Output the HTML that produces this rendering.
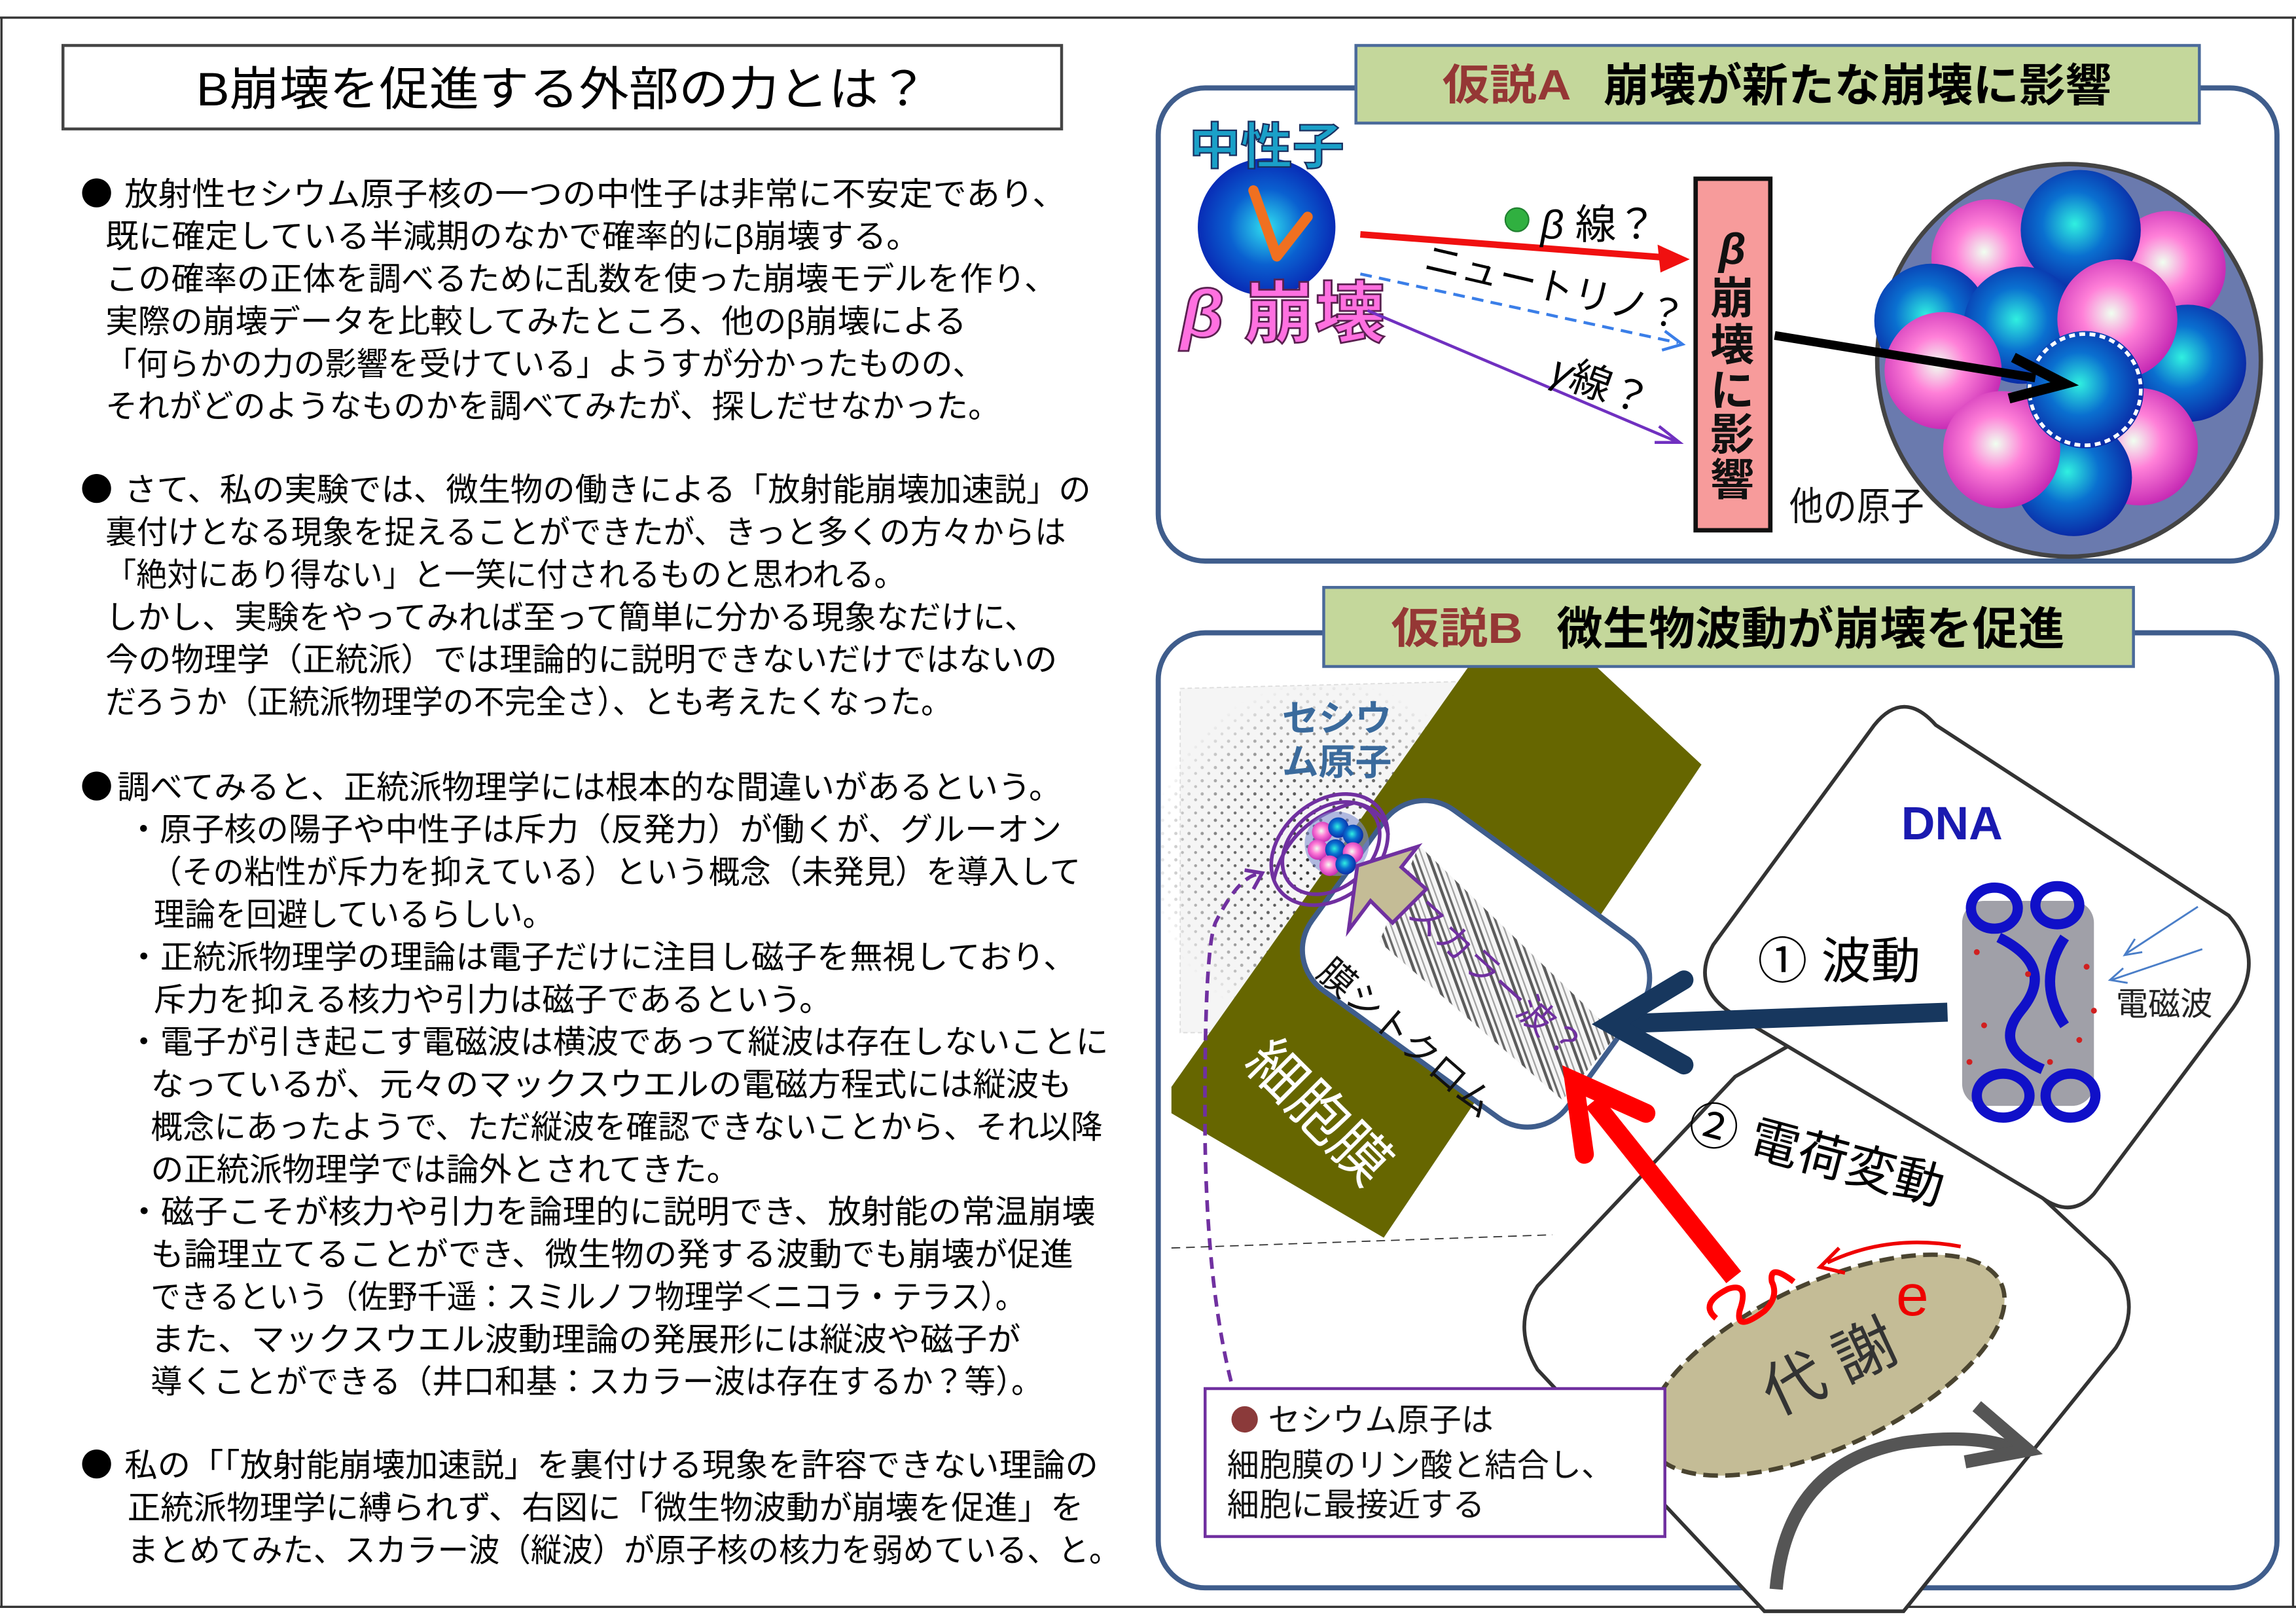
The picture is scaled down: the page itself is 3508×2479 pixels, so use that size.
<!DOCTYPE html>
<html><head><meta charset="utf-8"><style>
html,body{margin:0;padding:0;background:#fff;}
svg{display:block;}
text{font-family:"Liberation Sans","Noto Sans CJK JP",sans-serif;}
.b{font-family:"Noto Sans CJK JP",sans-serif;}
</style></head><body>
<svg width="3508" height="2479" viewBox="0 0 1568 1108" xmlns="http://www.w3.org/2000/svg">
<defs>
<radialGradient id="gb" cx="0.45" cy="0.45" r="0.6"><stop offset="0" stop-color="#30f0e0"/><stop offset="0.45" stop-color="#0a70d0"/><stop offset="1" stop-color="#0a20a0"/></radialGradient>
<radialGradient id="gp" cx="0.45" cy="0.45" r="0.6"><stop offset="0" stop-color="#f0fff0"/><stop offset="0.4" stop-color="#ff80d8"/><stop offset="1" stop-color="#c020b0"/></radialGradient>
<radialGradient id="gn" cx="0.5" cy="0.5" r="0.55"><stop offset="0" stop-color="#30e0f0"/><stop offset="0.5" stop-color="#0a60d0"/><stop offset="1" stop-color="#0820b0"/></radialGradient>
<pattern id="dots" width="9" height="9" patternUnits="userSpaceOnUse"><circle cx="2" cy="2" r="1.1" fill="#222"/><circle cx="6.5" cy="6" r="1" fill="#222"/></pattern>
<radialGradient id="dm"><stop offset="0" stop-color="#fff"/><stop offset="0.6" stop-color="#fff" stop-opacity="0.6"/><stop offset="1" stop-color="#fff" stop-opacity="0"/></radialGradient>
<mask id="dmask"><circle cx="905" cy="585" r="120" fill="url(#dm)"/></mask>
<pattern id="stripes" width="12" height="12" patternUnits="userSpaceOnUse" patternTransform="rotate(-20)"><rect width="12" height="12" fill="#f4f4f4"/><rect x="0" width="1.5" height="12" fill="#444"/><rect x="4" width="1" height="12" fill="#888"/><rect x="8" width="2" height="12" fill="#333"/></pattern>
</defs>

<!-- frame -->
<line x1="0" y1="12" x2="1568" y2="12" stroke="#333" stroke-width="1.5"/>
<line x1="0" y1="1097" x2="1568" y2="1097" stroke="#333" stroke-width="1.5"/>
<line x1="1" y1="12" x2="1" y2="1097" stroke="#333" stroke-width="1.5"/>
<line x1="1566" y1="12" x2="1566" y2="1097" stroke="#333" stroke-width="1.5"/>

<!-- title -->
<rect x="43" y="31" width="682" height="57" fill="#fff" stroke="#444" stroke-width="2"/>
<text x="384" y="72" font-size="32" text-anchor="middle" textLength="500" lengthAdjust="spacingAndGlyphs">B崩壊を促進する外部の力とは？</text>

<!-- left text -->
<g font-size="22" fill="#000">
<text class="b" x="55" y="140">●</text>
<text x="85" y="140" textLength="643" lengthAdjust="spacingAndGlyphs">放射性セシウム原子核の一つの中性子は非常に不安定であり、</text>
<text x="72" y="169" textLength="556" lengthAdjust="spacingAndGlyphs">既に確定している半減期のなかで確率的にβ崩壊する。</text>
<text x="72" y="198" textLength="650" lengthAdjust="spacingAndGlyphs">この確率の正体を調べるために乱数を使った崩壊モデルを作り、</text>
<text x="72" y="227" textLength="588" lengthAdjust="spacingAndGlyphs">実際の崩壊データを比較してみたところ、他のβ崩壊による</text>
<text x="72" y="256" textLength="600" lengthAdjust="spacingAndGlyphs">「何らかの力の影響を受けている」ようすが分かったものの、</text>
<text x="72" y="285" textLength="611" lengthAdjust="spacingAndGlyphs">それがどのようなものかを調べてみたが、探しだせなかった。</text>

<text class="b" x="55" y="342">●</text>
<text x="85" y="342" textLength="660" lengthAdjust="spacingAndGlyphs">さて、私の実験では、微生物の働きによる「放射能崩壊加速説」の</text>
<text x="72" y="371" textLength="656" lengthAdjust="spacingAndGlyphs">裏付けとなる現象を捉えることができたが、きっと多くの方々からは</text>
<text x="72" y="400" textLength="546" lengthAdjust="spacingAndGlyphs">「絶対にあり得ない」と一笑に付されるものと思われる。</text>
<text x="72" y="429" textLength="636" lengthAdjust="spacingAndGlyphs">しかし、実験をやってみれば至って簡単に分かる現象なだけに、</text>
<text x="72" y="458" textLength="650" lengthAdjust="spacingAndGlyphs">今の物理学（正統派）では理論的に説明できないだけではないの</text>
<text x="72" y="487" textLength="578" lengthAdjust="spacingAndGlyphs">だろうか（正統派物理学の不完全さ）、とも考えたくなった。</text>

<text class="b" x="55" y="545">●</text>
<text x="80" y="545" textLength="645" lengthAdjust="spacingAndGlyphs">調べてみると、正統派物理学には根本的な間違いがあるという。</text>
<text x="87" y="574" textLength="638" lengthAdjust="spacingAndGlyphs">・原子核の陽子や中性子は斥力（反発力）が働くが、グルーオン</text>
<text x="103" y="603" textLength="635" lengthAdjust="spacingAndGlyphs">（その粘性が斥力を抑えている）という概念（未発見）を導入して</text>
<text x="105" y="632" textLength="273" lengthAdjust="spacingAndGlyphs">理論を回避しているらしい。</text>
<text x="87" y="661" textLength="648" lengthAdjust="spacingAndGlyphs">・正統派物理学の理論は電子だけに注目し磁子を無視しており、</text>
<text x="105" y="690" textLength="463" lengthAdjust="spacingAndGlyphs">斥力を抑える核力や引力は磁子であるという。</text>
<text x="87" y="719" textLength="670" lengthAdjust="spacingAndGlyphs">・電子が引き起こす電磁波は横波であって縦波は存在しないことに</text>
<text x="103" y="748" textLength="629" lengthAdjust="spacingAndGlyphs">なっているが、元々のマックスウエルの電磁方程式には縦波も</text>
<text x="103" y="777" textLength="650" lengthAdjust="spacingAndGlyphs">概念にあったようで、ただ縦波を確認できないことから、それ以降</text>
<text x="103" y="806" textLength="402" lengthAdjust="spacingAndGlyphs">の正統派物理学では論外とされてきた。</text>
<text x="87" y="835" textLength="661" lengthAdjust="spacingAndGlyphs">・磁子こそが核力や引力を論理的に説明でき、放射能の常温崩壊</text>
<text x="103" y="864" textLength="630" lengthAdjust="spacingAndGlyphs">も論理立てることができ、微生物の発する波動でも崩壊が促進</text>
<text x="103" y="893" textLength="597" lengthAdjust="spacingAndGlyphs">できるという（佐野千遥：スミルノフ物理学＜ニコラ・テラス）。</text>
<text x="103" y="922" textLength="594" lengthAdjust="spacingAndGlyphs">また、マックスウエル波動理論の発展形には縦波や磁子が</text>
<text x="103" y="951" textLength="609" lengthAdjust="spacingAndGlyphs">導くことができる（井口和基：スカラー波は存在するか？等）。</text>

<text class="b" x="55" y="1008">●</text>
<text x="85" y="1008" textLength="665" lengthAdjust="spacingAndGlyphs">私の「「放射能崩壊加速説」を裏付ける現象を許容できない理論の</text>
<text x="87" y="1037" textLength="653" lengthAdjust="spacingAndGlyphs">正統派物理学に縛られず、右図に「微生物波動が崩壊を促進」を</text>
<text x="87" y="1066" textLength="678" lengthAdjust="spacingAndGlyphs">まとめてみた、スカラー波（縦波）が原子核の核力を弱めている、と。</text>
</g>

<!-- ============ Hypothesis A ============ -->
<rect x="791" y="60" width="764" height="323" rx="32" fill="#fff" stroke="#3f5d8c" stroke-width="3.5"/>
<rect x="926" y="31" width="576" height="53" fill="#c4d79b" stroke="#4a6a9a" stroke-width="2"/>
<text x="985" y="68" font-size="29" font-weight="bold" fill="#953735" textLength="88" lengthAdjust="spacingAndGlyphs">仮説A</text>
<text x="1095" y="69" font-size="31" font-weight="bold" fill="#000" textLength="347" lengthAdjust="spacingAndGlyphs">崩壊が新たな崩壊に影響</text>

<circle cx="865" cy="155" r="47" fill="url(#gn)"/>
<path d="M856,130 L872,175 L893,148" fill="none" stroke="#f07020" stroke-width="7" stroke-linecap="round" stroke-linejoin="round"/>
<text x="865" y="112" font-size="34" font-weight="bold" fill="#1aa0c8" stroke="#1a3060" stroke-width="1" text-anchor="middle" textLength="106" lengthAdjust="spacingAndGlyphs">中性子</text>
<text x="806" y="230" font-size="46" font-weight="bold" fill="#ff70e0" stroke="#5a2050" stroke-width="1.2" textLength="140" lengthAdjust="spacingAndGlyphs"><tspan font-style="italic">β</tspan> 崩壊</text>

<line x1="929" y1="160" x2="1140" y2="176" stroke="#f01010" stroke-width="4.5"/>
<path d="M1154,177 L1132,167 L1134,186 z" fill="#f01010"/>
<circle cx="1036" cy="150" r="8" fill="#30b040" stroke="#208030" stroke-width="1"/>
<text x="1052" y="163" font-size="28" fill="#000"><tspan font-style="italic">β</tspan> 線？</text>
<line x1="929" y1="187" x2="1146" y2="234" stroke="#3a7ee8" stroke-width="2" stroke-dasharray="8,5"/>
<path d="M1137,226 L1149,235 L1135,239" fill="none" stroke="#3a7ee8" stroke-width="2"/>
<text x="1060" y="205" font-size="26" fill="#000" text-anchor="middle" transform="rotate(13 1060 205)">ニュートリノ？</text>
<line x1="934" y1="212" x2="1144" y2="301" stroke="#7030c0" stroke-width="2"/>
<path d="M1133,291 L1147,302 L1130,302" fill="none" stroke="#7030c0" stroke-width="2"/>
<text x="1090" y="272" font-size="28" fill="#000" text-anchor="middle" transform="rotate(20 1090 272)"><tspan font-style="italic">γ</tspan>線？</text>

<rect x="1158" y="122" width="51" height="240" fill="#f79b9b" stroke="#111" stroke-width="3"/>
<g font-size="30" font-weight="bold" fill="#111" text-anchor="middle">
<text x="1183" y="180" font-style="italic">β</text>
<text x="1183" y="214">崩</text>
<text x="1183" y="246">壊</text>
<text x="1183" y="277">に</text>
<text x="1183" y="307">影</text>
<text x="1183" y="338">響</text>
</g>

<ellipse cx="1413" cy="246" rx="131" ry="134" fill="#6a7aae" stroke="#444" stroke-width="3"/>
<g>
<circle cx="1359" cy="176" r="40" fill="url(#gp)"/>
<circle cx="1481" cy="183" r="39" fill="url(#gp)"/>
<circle cx="1421" cy="157" r="41" fill="url(#gb)"/>
<circle cx="1319" cy="219" r="39" fill="url(#gb)"/>
<circle cx="1494" cy="248" r="40" fill="url(#gb)"/>
<circle cx="1381" cy="222" r="40" fill="url(#gb)"/>
<circle cx="1446" cy="218" r="41" fill="url(#gp)"/>
<circle cx="1327" cy="253" r="40" fill="url(#gp)"/>
<circle cx="1461" cy="305" r="40" fill="url(#gp)"/>
<circle cx="1416" cy="326" r="40" fill="url(#gb)"/>
<circle cx="1367" cy="307" r="40" fill="url(#gp)"/>
<circle cx="1424" cy="266" r="40" fill="url(#gb)"/>
<circle cx="1424" cy="266" r="38" fill="none" stroke="#fff" stroke-width="2.5" stroke-dasharray="4,3"/>
</g>
<line x1="1212" y1="229" x2="1390" y2="258" stroke="#000" stroke-width="6"/>
<path d="M1375,244 L1410,262 L1372,272" fill="none" stroke="#000" stroke-width="7" stroke-linejoin="miter"/>
<text x="1222" y="355" font-size="27" fill="#111" textLength="92" lengthAdjust="spacingAndGlyphs">他の原子</text>

<!-- ============ Hypothesis B ============ -->
<rect x="791" y="432" width="764" height="652" rx="32" fill="#fff" stroke="#3f5d8c" stroke-width="3.5"/>

<polygon points="806,470 1010,465 905,705 806,705" fill="#f5f5f5" stroke="#ddd" stroke-width="0.8" stroke-dasharray="3,2"/>
<rect x="790" y="460" width="240" height="250" fill="url(#dots)" mask="url(#dmask)"/>

<polygon points="1003,455 1090,455 1162,522 945,845 800,760 800,742" fill="#666600"/>

<!-- diamond 2 -->
<path d="M1225,712 Q1255,690 1285,715 L1440,860 Q1465,888 1445,920 L1300,1100 L1205,1100 L1050,935 Q1032,905 1050,878 L1185,735 Z" fill="#fff" stroke="#333" stroke-width="2.5"/>
<!-- diamond 1 -->
<path d="M1280,495 Q1300,470 1322,495 L1522,625 Q1548,655 1525,688 L1430,815 Q1415,832 1395,818 L1180,690 Q1155,672 1170,645 Z" fill="#fff" stroke="#333" stroke-width="2.5"/>

<!-- B header (drawn over panel border) -->
<rect x="904" y="401" width="553" height="54" fill="#c4d79b" stroke="#4a6a9a" stroke-width="2"/>
<text x="950" y="439" font-size="29" font-weight="bold" fill="#953735" textLength="90" lengthAdjust="spacingAndGlyphs">仮説B</text>
<text x="1063" y="440" font-size="31" font-weight="bold" fill="#000" textLength="347" lengthAdjust="spacingAndGlyphs">微生物波動が崩壊を促進</text>

<!-- cytochrome -->
<g transform="translate(1008,658) rotate(36)">
<rect x="-108" y="-76" width="216" height="152" rx="34" fill="#fff" stroke="#3f5d8c" stroke-width="3.5"/>
</g>
<polygon points="969,577 1104,707 1067,751 942,643" fill="url(#stripes)" opacity="0.8"/>
<text x="960" y="717" font-size="25" fill="#111" text-anchor="middle" transform="rotate(41 960 709)">膜シトクロム</text>
<text x="1021" y="677" font-size="25" fill="#7030a0" text-anchor="middle" transform="rotate(42 1021 669)">スカラー波？</text>

<!-- Cs atom -->
<g fill="none" stroke="#7030a0" stroke-width="2.5">
<ellipse cx="908" cy="580" rx="44" ry="33" transform="rotate(-40 908 580)"/>
<ellipse cx="909" cy="579" rx="37" ry="27" transform="rotate(-40 909 579)"/>
<path d="M870,600 Q880,560 925,548 Q945,552 948,570"/>
</g>
<circle cx="913" cy="576" r="22" fill="#8090d0" opacity="0.6"/>
<g>
<circle cx="903" cy="568" r="7" fill="url(#gp)"/><circle cx="914" cy="565" r="7" fill="url(#gb)"/><circle cx="924" cy="570" r="7" fill="url(#gb)"/>
<circle cx="900" cy="580" r="7" fill="url(#gp)"/><circle cx="912" cy="580" r="7" fill="url(#gb)"/><circle cx="924" cy="582" r="7" fill="url(#gp)"/>
<circle cx="908" cy="591" r="7" fill="url(#gp)"/><circle cx="919" cy="590" r="7" fill="url(#gb)"/>
</g>
<text x="913" y="499" font-size="25" font-weight="bold" fill="#3a6a9c" text-anchor="middle">セシウ</text>
<text x="913" y="529" font-size="25" font-weight="bold" fill="#3a6a9c" text-anchor="middle">ム原子</text>

<polygon points="927,591 968,578 957,592 974,607 951,630 936,615 921,635" fill="#c4bc96" stroke="#7030a0" stroke-width="2.5" stroke-linejoin="miter"/>

<text x="900" y="773" font-size="40" fill="#fff" text-anchor="middle" transform="rotate(45 900 760)">細胞膜</text>

<path d="M848,968 Q825,900 823,780 Q822,650 830,630 Q845,600 858,597" fill="none" stroke="#7030a0" stroke-width="2.5" stroke-dasharray="8,5"/>
<path d="M850,594 L862,596 L856,607" fill="none" stroke="#7030a0" stroke-width="2.5"/>

<line x1="800" y1="852" x2="1060" y2="843" stroke="#333" stroke-width="0.8" stroke-dasharray="6,4"/>

<!-- DNA -->
<text x="1333" y="573" font-size="32" font-weight="bold" fill="#1a1ab0" text-anchor="middle" font-family="Liberation Sans,sans-serif">DNA</text>
<g>
<rect x="1340" y="615" width="90" height="140" rx="15" fill="#a0a0a8"/>
<g fill="none" stroke="#1010c8" stroke-width="7">
<ellipse cx="1362" cy="620" rx="16" ry="14"/><ellipse cx="1405" cy="618" rx="15" ry="13"/>
<path d="M1365,640 Q1405,660 1380,690 Q1360,715 1395,730"/>
<path d="M1410,640 Q1390,670 1410,700"/>
<ellipse cx="1368" cy="748" rx="18" ry="15"/><ellipse cx="1414" cy="748" rx="17" ry="15"/>
</g>
<g fill="#d02020">
<circle cx="1350" cy="650" r="2"/><circle cx="1425" cy="660" r="2"/><circle cx="1355" cy="700" r="2"/><circle cx="1420" cy="710" r="2"/><circle cx="1385" cy="665" r="2"/><circle cx="1400" cy="725" r="2"/><circle cx="1345" cy="725" r="2"/><circle cx="1430" cy="690" r="2"/>
</g>
</g>
<g stroke="#4a7ec8" stroke-width="1.3" fill="none">
<line x1="1501" y1="619" x2="1452" y2="651"/><path d="M1458,641 L1451,652 L1463,650"/>
<line x1="1504" y1="648" x2="1442" y2="669"/><path d="M1450,661 L1441,669 L1453,671"/>
</g>
<text x="1478" y="693" font-size="22" fill="#222" text-anchor="middle">電磁波</text>
<text x="1256" y="668" font-size="34" fill="#000" text-anchor="middle">① 波動</text>

<line x1="1330" y1="691" x2="1105" y2="699" stroke="#17375e" stroke-width="13"/>
<path d="M1150,669 L1100,699 L1150,727" fill="none" stroke="#17375e" stroke-width="13" stroke-linecap="round" stroke-linejoin="miter"/>

<text x="1240" y="800" font-size="34" fill="#000" text-anchor="middle" transform="rotate(15 1240 790)">② 電荷変動</text>

<ellipse cx="1247" cy="932" rx="132" ry="56" transform="rotate(-25 1247 932)" fill="#c4bc96" stroke="#4a4430" stroke-width="3" stroke-dasharray="10,5"/>
<text x="1250" y="948" font-size="42" fill="#333" text-anchor="middle" transform="rotate(-25 1250 935)">代 謝</text>
<text x="1306" y="898" font-size="40" fill="#e00" text-anchor="middle" font-family="Liberation Sans,sans-serif">e</text>
<path d="M1339,851 Q1290,842 1248,862" fill="none" stroke="#e00" stroke-width="2.5"/>
<path d="M1256,852 L1243,865 L1260,869" fill="none" stroke="#e00" stroke-width="2.5"/>
<path d="M1213,1085 Q1220,1000 1300,985 Q1350,978 1378,990" fill="none" stroke="#555" stroke-width="9"/>
<path d="M1350,960 L1385,990 L1342,998" fill="none" stroke="#555" stroke-width="9" stroke-linejoin="miter"/>

<line x1="1184" y1="872" x2="1088" y2="752" stroke="#f00" stroke-width="13"/>
<path d="M1082,788 L1075,738 L1124,760" fill="none" stroke="#f00" stroke-width="13" stroke-linecap="round" stroke-linejoin="miter"/>
<path d="M1172,900 Q1160,890 1180,880 Q1195,875 1188,895 Q1185,910 1205,895 Q1215,885 1210,875 Q1208,862 1225,875" fill="none" stroke="#f00" stroke-width="4"/>

<rect x="823" y="948" width="314" height="101" fill="#fff" stroke="#7030a0" stroke-width="2"/>
<circle cx="850" cy="969" r="9" fill="#8b3a3a"/>
<g font-size="22" fill="#111">
<text x="866" y="977">セシウム原子は</text>
<text x="838" y="1008">細胞膜のリン酸と結合し、</text>
<text x="838" y="1035">細胞に最接近する</text>
</g>
</svg>
</body></html>
